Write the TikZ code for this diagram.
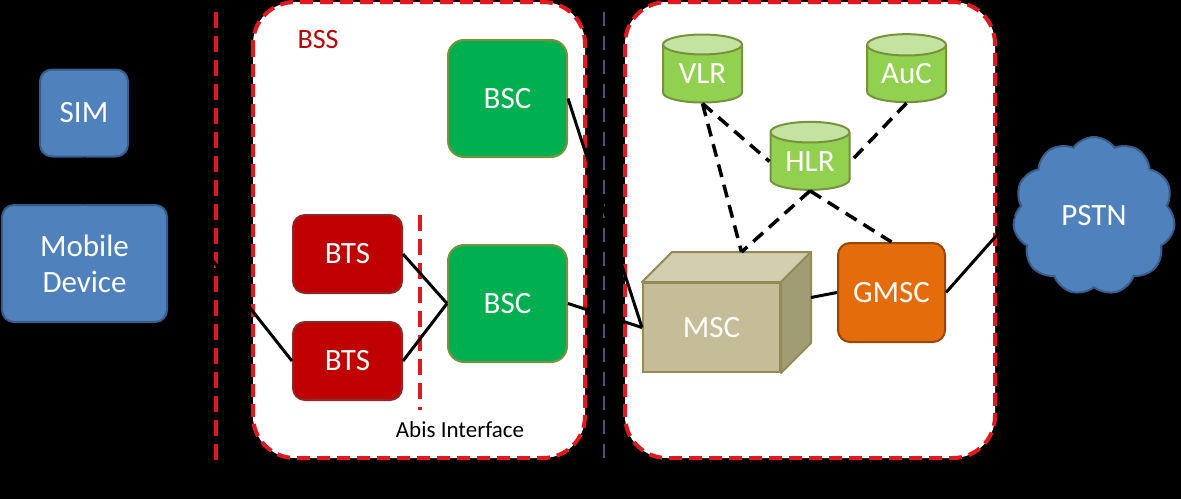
\documentclass[tikz,border=0pt]{standalone}
\usepackage{fontspec}
\setmainfont{Carlito}
\usetikzlibrary{calc, shapes.geometric, shapes.symbols}
\definecolor{simblue}{RGB}{79,129,189}
\definecolor{simedge}{RGB}{56,93,138}
\definecolor{bscgreen}{RGB}{0,176,80}
\definecolor{bscedge}{RGB}{119,147,60}
\definecolor{btsred}{RGB}{192,0,0}
\definecolor{btsedge}{RGB}{140,40,40}
\definecolor{dbgreen}{RGB}{146,208,80}
\definecolor{dbtop}{RGB}{196,226,160}
\definecolor{dbedge}{RGB}{118,146,60}
\definecolor{mscfront}{RGB}{196,189,151}
\definecolor{msctopc}{RGB}{212,206,176}
\definecolor{mscsidec}{RGB}{160,156,116}
\definecolor{mscedge}{RGB}{148,139,84}
\definecolor{gmscorange}{RGB}{228,108,10}
\definecolor{gmscedge}{RGB}{152,72,6}
\definecolor{borderred}{RGB}{225,25,30}
\definecolor{borderblue}{RGB}{68,84,120}

\begin{document}
\begin{tikzpicture}[x=1pt, y=-1pt,
    every node/.style={font=\fontsize{31}{36}\selectfont, align=center, inner sep=0pt},
    unit/.style={rounded corners=12pt, line width=2pt, text=white},
    simbox/.style={unit, fill=simblue, draw=simedge},
    bscbox/.style={unit, rounded corners=16pt, fill=bscgreen, draw=bscedge, minimum width=119, minimum height=117},
    btsbox/.style={unit, fill=btsred, draw=btsedge, minimum width=109, minimum height=78},
    dbase/.style={cylinder, shape border rotate=90, aspect=0.42, line width=2pt, draw=dbedge, text=white,
        cylinder uses custom fill, cylinder body fill=dbgreen, cylinder end fill=dbtop,
        minimum width=79, minimum height=68},
    area/.style={fill=white, draw=borderred, line width=4pt, dash pattern=on 13pt off 7pt, rounded corners=42pt},
    redline/.style={draw=borderred, line width=4pt, dash pattern=on 16pt off 8pt},
    blueline/.style={draw=borderblue, line width=2.5pt, dash pattern=on 14pt off 10pt},
    link/.style={line width=3pt},
    dlink/.style={line width=3.5pt, dash pattern=on 13pt off 8pt}]
    \fill[black] (0,0) rectangle (1181,499);
    \useasboundingbox (0,0) rectangle (1181,499);

    % Dividing lines
    \draw[redline] (216,12) -- (216,465);
    \draw[blueline] (604,12) -- (604,465);

    % BSS area
    \draw[area] (253,2) rectangle (585,458);
    \node[text=btsred, font=\fontsize{28}{32}\selectfont] (bss) at (318,40) {BSS};
    \draw[redline] (420,215) -- (420,410);
    \node[font=\fontsize{23}{27}\selectfont] (abis) at (460,430) {Abis Interface};

    % Core network area
    \draw[area] (625,2) rectangle (995,458);

    % Mobile station
    \node[simbox, minimum width=88, minimum height=87] (sim) at (84,113) {SIM};
    \node[simbox, minimum width=165, minimum height=117] (md) at (84.5,263.5) {Mobile\\Device};

    % BSS units
    \node[bscbox] (bsca) at (507.5,98.5) {BSC};
    \node[bscbox] (bscb) at (507.5,303.5) {BSC};
    \node[btsbox] (btsa) at (347.5,254) {BTS};
    \node[btsbox] (btsb) at (347.5,361) {BTS};

    % Databases
    \node[dbase] (vlr) at (702.5,74) {VLR};
    \node[dbase] (auc) at (906.5,74) {AuC};
    \node[dbase] (hlr) at (810,161.5) {HLR};

    % MSC cube
    \node[fill=mscfront, draw=mscedge, line width=2pt, text=white, minimum width=137, minimum height=89] (msc) at (711.5,327.5) {MSC};
    \filldraw[fill=msctopc, draw=mscedge, line width=2pt, line join=round] (msc.north west) -- ($(msc.north west)+(30,-30)$)
        -- ($(msc.north east)+(30,-30)$) -- (msc.north east) -- cycle;
    \filldraw[fill=mscsidec, draw=mscedge, line width=2pt, line join=round] (msc.north east) -- ($(msc.north east)+(30,-30)$)
        -- ($(msc.south east)+(30,-30)$) -- (msc.south east) -- cycle;
    \coordinate (msctop) at ($(msc.north)+(30,-30)$);
    \coordinate (mscside) at ($(msc.east)+(30,-30)$);

    \node[unit, fill=gmscorange, draw=gmscedge, minimum width=107, minimum height=99] (gmsc) at (891.5,292.5) {GMSC};

    % PSTN
    \node[cloud, cloud puffs=11, cloud puff arc=110, aspect=1, fill=simblue, draw=simedge, line width=2pt,
        text=white, minimum width=162, minimum height=158] (pstn) at (1094,216) {PSTN};

    % Links
    \draw[link] (sim.south) -- (md.north);
    \draw[link] (md.north east) -- (btsb.west);
    \draw[link] (btsa.east) -- (bscb.west);
    \draw[link] (btsb.east) -- (bscb.west);
    \draw[link] (bsca.east) -- (msc.west);
    \draw[link] (bscb.east) -- (msc.west);
    \draw[link] (mscside) -- (gmsc.west);
    \draw[link] (gmsc.east) -- (pstn.west);

    \draw[dlink] (vlr.south) -- (msctop);
    \draw[dlink] (hlr.south) -- (msctop);
    \draw[dlink] (hlr.south) -- (gmsc.north);
    \draw[dlink] (vlr.south) -- (hlr.west);
    \draw[dlink] (auc.south) -- (hlr.east);
\end{tikzpicture}
\end{document}
